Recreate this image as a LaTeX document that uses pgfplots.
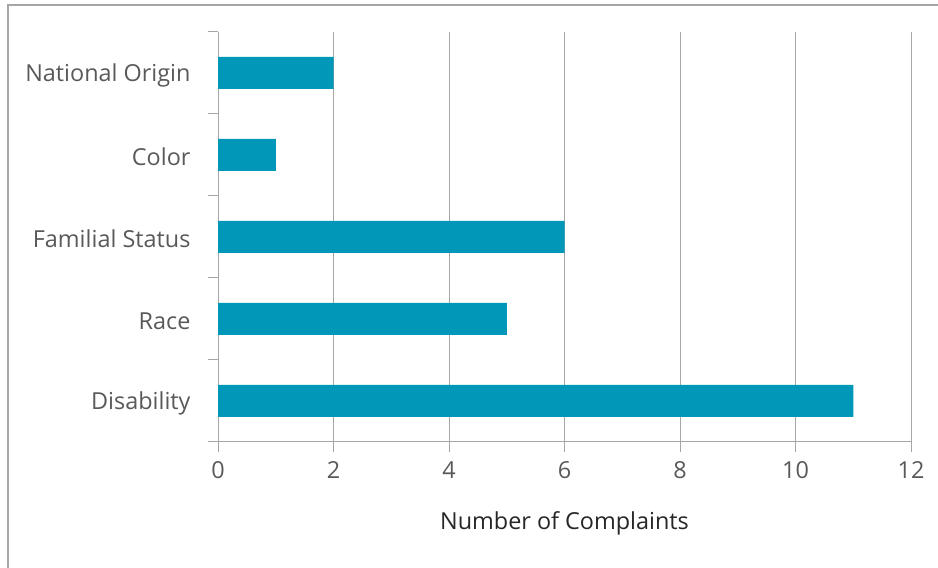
\documentclass[border=0pt]{standalone}
\usepackage{pgfplots}
\pgfplotsset{compat=1.18}
\usepackage{fontspec}
\setmainfont{Open Sans}
\definecolor{barc}{HTML}{0097B9}
\definecolor{gridc}{HTML}{A6A6A6}
\definecolor{txt}{HTML}{595959}
\definecolor{ttl}{HTML}{262626}
\begin{document}
\begin{tikzpicture}[x=1bp,y=1bp]
\useasboundingbox (0,0) rectangle (938,568);
\draw[gridc, line width=1.2bp] (8,0) -- (8,563) -- (938,563);
\begin{axis}[
  at={(218bp,126bp)}, anchor=south west,
  scale only axis, width=693bp, height=410bp,
  xmin=0, xmax=12, ymin=-0.5, ymax=4.5,
  xbar, bar width=32bp,
  axis lines=left,
  axis line style={gridc, -, line width=1bp},
  xtick={0,2,...,12},
  xmajorgrids, grid style={gridc, line width=1bp},
  ytick={-0.5,0.5,...,4.5}, yticklabels={},
  extra y ticks={0,1,2,3,4},
  extra y tick labels={Disability,Race,Familial Status,Color,National Origin},
  extra y tick style={major tick length=0pt, grid=none},
  tick align=outside, major tick length=10bp,
  tick style={gridc, line width=1bp},
  /pgf/number format/assume math mode=true,
  tick label style={font=\fontsize{23.5}{26}\selectfont, text=txt},
  yticklabel style={xshift=-24bp, yshift=-2bp},
  xticklabel style={yshift=-6bp},
  xlabel={Number of Complaints},
  xlabel style={font=\fontsize{23.5}{26}\selectfont, text=ttl, yshift=-26bp},
]
\addplot[fill=barc, draw=none] coordinates {(11,0) (5,1) (6,2) (1,3) (2,4)};
\end{axis}
\end{tikzpicture}
\end{document}
